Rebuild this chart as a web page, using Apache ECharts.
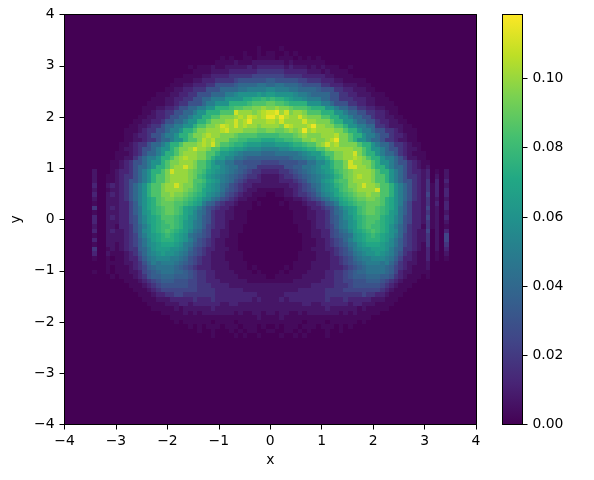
<!DOCTYPE html>
<html>
<head>
<meta charset="utf-8">
<style>
  html, body { margin: 0; padding: 0; background: #fff; }
  #chart { width: 594px; height: 480px; }
</style>
</head>
<body>
<div id="chart"></div>
<script src="https://cdn.jsdelivr.net/npm/echarts@6/dist/echarts.min.js"></script>
<script>
// density, one base-36 digit per cell (see densityLevels)
// rows run top to bottom from row 7, columns from column 5 of the 90x90 grid
const binCount = 90
const firstRow = 7
const firstColumn = 5
const densityLevels = [0, 0.003, 0.007, 0.012, 0.018, 0.024, 0.03, 0.035, 0.04, 0.045, 0.05, 0.055, 0.06, 0.065, 0.07, 0.075, 0.08, 0.085, 0.09, 0.095, 0.1, 0.105, 0.11, 0.115]
const densityRows = [
  '0000000000 0000000000 0000000000 0000000100 0010000000 0000000000 0000000000 0000000000',
  '0000000000 0000000000 0000000000 0000100101 1001010000 0000000000 0000000000 0000000000',
  '0000000000 0000000000 0000000001 0100110111 1011101010 1000000000 0000000000 0000000000',
  '0000000000 0000000000 0000000011 1121112222 2221211111 1100000000 0000000000 0000000000',
  '0000000000 0000000000 0010111211 2222232333 3332322212 1211100100 0000000000 0000000000',
  '0000000000 0000000000 0001111222 2333333444 4443333322 2121111000 0000000000 0000000000',
  '0000000000 0000000000 0111122333 3444445555 5554444333 3322111100 0000000000 0000000000',
  '0000000000 0000000001 1112233344 4456666667 7666665544 4333221111 1000000000 0000000000',
  '0000000000 0000000011 1223334466 6678888998 8998887666 6443332221 1100000000 0000000000',
  '0000000000 0000000112 2334446668 88899aaaab baaa998888 7666443322 2110000000 0000000000',
  '0000000000 0000011122 3344666888 aabccccdcd dccccbaa98 8886644332 2211100000 0000000000',
  '0000000000 0000111223 3446688aaa cccceeffgf gffedccbaa a886644433 3221110000 0000000000',
  '0000000000 0001111223 446668aacc cffffghhhi ihhgffffcc caa8666443 3221111000 0000000000',
  '0000000000 0011122334 6688aaccff fghhiijjkj jkjjihhhgf ffcca88664 4332211100 0000000000',
  '0000000000 0011233446 688accfffh hhmkkkjklm mnkmjkkjhh hfffcca886 6443321100 0000000000',
  '0000000000 0112233466 88accffhhj jjklkmlkln nlnlkkmkjj jhhffcca88 6643322110 0000000000',
  '0000000000 1122334668 8accffhjjj kkmklnkkkl lkmkkkkmkk jjjhffcca8 8664332211 0000000000',
  '0000000001 122344688a accfhhjjkm lkmklkkjkk kkjmlkkkln kkjjhhfcca a884432221 1000000000',
  '0000000011 12344668aa cffhjjkkkl mkkkjjjiij jiijkjknkl kkkkjjhffc aa86644321 1100000000',
  '0000000011 2334668aac ffhjjklkkj jjihhhhggg gghhhijkjj jkkkljjhff caa8664332 1100000000',
  '0000000011 22344688ac cfhhjlkljj jhhggfffee effgghhjjk jjklnjjhfc ca88644322 1100000000',
  '0000000112 344688acff hjjjklkmjh hgffedddcc cdddeffghh jkmkljjjjh ffca886443 2110000000',
  '0000000122 34668accfh jjkmkkjhhf feddcbbbaa aabbcddeff hhjkkkkkjj hfcca86643 2210000000',
  '0000001112 34688acffh jkkkjjhhfd dcba999988 899999abcd dfhhjjkkmj hffca88643 2111000000',
  '0000001122 468aacffhj klkkjjhfdd bb99877777 7777899abb ddfhjjkklk jhffcaa864 2211000000',
  '0000011234 668accfhjj kkkjhhfdbb 9977666655 5566667799 bbdfhhjmkk jjhfcca866 4321100000',
  '0000011234 688acffhjk kmkjhhfddb a997766444 444667799a bddfhhjmmk kjhffca886 4321200000',
  '0200012334 68acffhjmk kkjihgedcb a987654433 334456789a bcdeghijkk kkjhffca86 4332301020',
  '0200112344 68acfhhjkk kkjigfdcba 9876544322 2234456789 abcdfgijkl kkjhhfca86 4432302020',
  '0200112346 68acfhhjkk kkjhhgedca 9865433322 2233345689 acdeghhjkk kkjhhfca86 6432403030',
  '0300232346 8acfhhjkkm kjjhgfdcb9 8654332222 2222334568 9bcdfghjjk mkkjhhfca8 6432413020',
  '0200122346 8acfhhjkkk kjihgedcb9 7654322111 1112234567 9bcdeghijk kkkmhhfca8 6432413030',
  '0300232346 8acfhhjjkj jihgfecba8 6543221110 0112234456 8abcefghij jkjjhhfca8 6432513030',
  '0200222346 8acefhijji ihgfecb986 5432211000 0001122345 689bcefghi ijjihfeca8 6432412020',
  '0100222335 7acefhiiih hgfeda8754 3321110100 0010111233 4578adefgh hiiihfeca7 5332413030',
  '0400232335 79cefghiih gedca86543 3211110000 0000111123 34568acdeg hiihgfec97 5332512030',
  '0100222335 79cdfghiih gedb986433 2211100000 0000011122 334689bdeg hiihgfdc97 5332412020',
  '0300232335 69bdefhhhg fecb976433 2211100000 0000011122 334679bcef ghhhfedb96 5332512030',
  '0300222335 69bdefghhg fdca976433 2111100000 0000011112 334679acdf ghhgfedb96 5332412020',
  '0200221334 68acefgghg fdca975433 2111000000 0000001112 334579acdf ghggfeca86 4331412010',
  '0300232234 68bcefghgf edb9865332 2111000000 0000001112 2335689bde fghgfecb86 4322502030',
  '0100222234 58acdefgfe dc98765332 2110000000 0000000112 23356789cd efgfedca85 4322402050',
  '0300222234 579bdefffe dca8654322 1110000000 0000000111 2234568acd efffedb975 4322402050',
  '0100221234 579bcdeeed ca97654322 1110000000 0000000111 22345679ac deeedcb975 4321402040',
  '0400121234 478acdddcc ba86543322 2110000000 0000000112 22334568ab ccdddca874 4321302030',
  '0300211123 468abcdccb a976543222 1111000000 0000001111 222345679a bccdcba864 3211301020',
  '0100101123 3579abbbaa 9865433222 1111000000 0000001111 2223345689 aabbba9753 3211301010',
  '0000111122 3468a9aaa9 8765433222 2111100000 0000011112 2223345678 9aaa9a8643 2211200000',
  '0000101112 3457899998 7654333222 2111101000 0001011112 2223334567 8999987543 2111200000',
  '0100101112 2356789998 8765443322 2211110100 0010111122 2233445678 8999987532 2111100000',
  '0000010111 2346778887 7765443322 2221111110 0111111222 2233445677 7888776432 1110100000',
  '0000000011 1234567776 6655443332 2222211111 1111122222 2333445566 6777654321 1100000000',
  '0000000001 1123456666 6655444333 3222222222 2222222223 3333444566 6666543211 1000000000',
  '0000000000 1112345555 5555444433 3333222222 2222223333 3344445555 5555432111 0000000000',
  '0000000000 0111233445 5444444433 3333333222 2223333333 3344444444 5443321110 0000000000',
  '0000000000 0011122233 3334333433 3333332322 2232333333 3343334333 3322211100 0000000000',
  '0000000000 0001111222 3323333332 2332222222 2222222332 2333333233 2221111000 0000000000',
  '0000000000 0000111112 1222222322 2222222222 2222222222 2232222221 2111110000 0000000000',
  '0000000000 0000001111 1212122222 2212112212 2122112122 2222212121 1111000000 0000000000',
  '0000000000 0000000011 1111111111 1111111211 1121111111 1111111111 1100000000 0000000000',
  '0000000000 0000000001 0111111011 1101111111 1111111011 1101111110 1000000000 0000000000',
  '0000000000 0000000000 0010101110 1110111010 0101110111 0111010100 0000000000 0000000000',
  '0000000000 0000000000 0000100100 0101011001 1001101010 0010010000 0000000000 0000000000',
  '0000000000 0000000000 0000000100 0010100100 0010010100 0010000000 0000000000 0000000000'
]
const densityMax = 0.1185
const colorbarTicks = [0, 0.02, 0.04, 0.06, 0.08, 0.1]
const viridis = ['#440154', '#482475', '#414487', '#355f8d', '#2a788e', '#21918c', '#22a884', '#44bf70', '#7ad151', '#bddf26', '#fde725']

const binWidth = 8 / binCount

// every cell of the grid, empty ones included: [left edge, top edge, density]
const cells = []
for (let row = 0; row < binCount; row++) {
  const line = (densityRows[row - firstRow] || '').replace(/ /g, '')
  for (let col = 0; col < binCount; col++) {
    const digit = line[col - firstColumn]
    cells.push([-4 + col * binWidth, 4 - row * binWidth, digit ? densityLevels[parseInt(digit, 36)] : 0])
  }
}

// snap the cell edges to whole pixels so neighbours leave no seam
function renderCell(params, api) {
  const from = api.coord([api.value(0), api.value(1)])
  const to = api.coord([api.value(0) + binWidth, api.value(1) - binWidth])
  const x = Math.round(from[0])
  const y = Math.round(from[1])
  return {
    type: 'rect',
    shape: { x, y, width: Math.round(to[0]) - x, height: Math.round(to[1]) - y },
    style: { fill: api.visual('color') }
  }
}

const fontFamily = 'DejaVu Sans'
const blackLine = { color: '#000', width: 1 }
const labelStyle = { color: '#000', fontSize: 13.9, fontFamily, margin: 10 }
const minusLabel = v => String(v).replace('-', '\u2212')

function rangeAxis(position, extra) {
  return Object.assign({
    type: 'value',
    position,
    gridIndex: 0,
    min: -4,
    max: 4,
    interval: 1,
    z: 5,
    splitLine: { show: false },
    axisLine: { show: true, onZero: false, lineStyle: blackLine },
    axisTick: { show: true, length: 5, lineStyle: blackLine },
    axisLabel: Object.assign({ formatter: minusLabel }, labelStyle),
    nameTextStyle: { color: '#000', fontSize: 13.9, fontFamily }
  }, extra)
}

function spineOnly(position) {
  return rangeAxis(position, { axisTick: { show: false }, axisLabel: { show: false } })
}

// frame of the colour bar, no ticks and no labels
function barFrameX(position) {
  return {
    type: 'category',
    gridIndex: 1,
    position,
    data: [''],
    z: 5,
    axisLine: { show: true, onZero: false, lineStyle: blackLine },
    axisTick: { show: false },
    axisLabel: { show: false }
  }
}

const chart = echarts.init(document.getElementById('chart'), null, { renderer: 'canvas' })
chart.setOption({
  animation: false,
  backgroundColor: '#fff',
  grid: [
    { left: 64.5, top: 14.5, width: 411.5, height: 410 },
    { left: 502.5, top: 14.5, width: 20, height: 410 }
  ],
  xAxis: [
    rangeAxis('bottom', { name: 'x', nameLocation: 'middle', nameGap: 29 }),
    spineOnly('top'),
    barFrameX('bottom'),
    barFrameX('top')
  ],
  yAxis: [
    rangeAxis('left', { name: 'y', nameLocation: 'middle', nameGap: 38 }),
    spineOnly('right'),
    {
      type: 'value',
      gridIndex: 1,
      position: 'right',
      min: 0,
      max: densityMax,
      z: 5,
      splitLine: { show: false },
      axisLine: { show: true, onZero: false, lineStyle: blackLine },
      axisTick: { show: true, length: 5, customValues: colorbarTicks, lineStyle: blackLine },
      axisLabel: Object.assign({ customValues: colorbarTicks, formatter: v => v.toFixed(2) }, labelStyle)
    },
    {
      type: 'value',
      gridIndex: 1,
      position: 'left',
      min: 0,
      max: densityMax,
      z: 5,
      splitLine: { show: false },
      axisLine: { show: true, onZero: false, lineStyle: blackLine },
      axisTick: { show: false },
      axisLabel: { show: false }
    }
  ],
  visualMap: {
    show: false,
    seriesIndex: 0,
    dimension: 2,
    min: 0,
    max: densityMax,
    inRange: { color: viridis }
  },
  series: [
    {
      type: 'custom',
      xAxisIndex: 0,
      yAxisIndex: 0,
      data: cells,
      encode: { x: 0, y: 1 },
      renderItem: renderCell,
      progressive: 0,
      silent: true
    },
    {
      type: 'bar',
      xAxisIndex: 2,
      yAxisIndex: 2,
      data: [densityMax],
      barWidth: '100%',
      silent: true,
      itemStyle: {
        color: {
          type: 'linear', x: 0, y: 1, x2: 0, y2: 0,
          colorStops: viridis.map((color, i) => ({ offset: i / (viridis.length - 1), color }))
        }
      }
    }
  ]
})
</script>
</body>
</html>
